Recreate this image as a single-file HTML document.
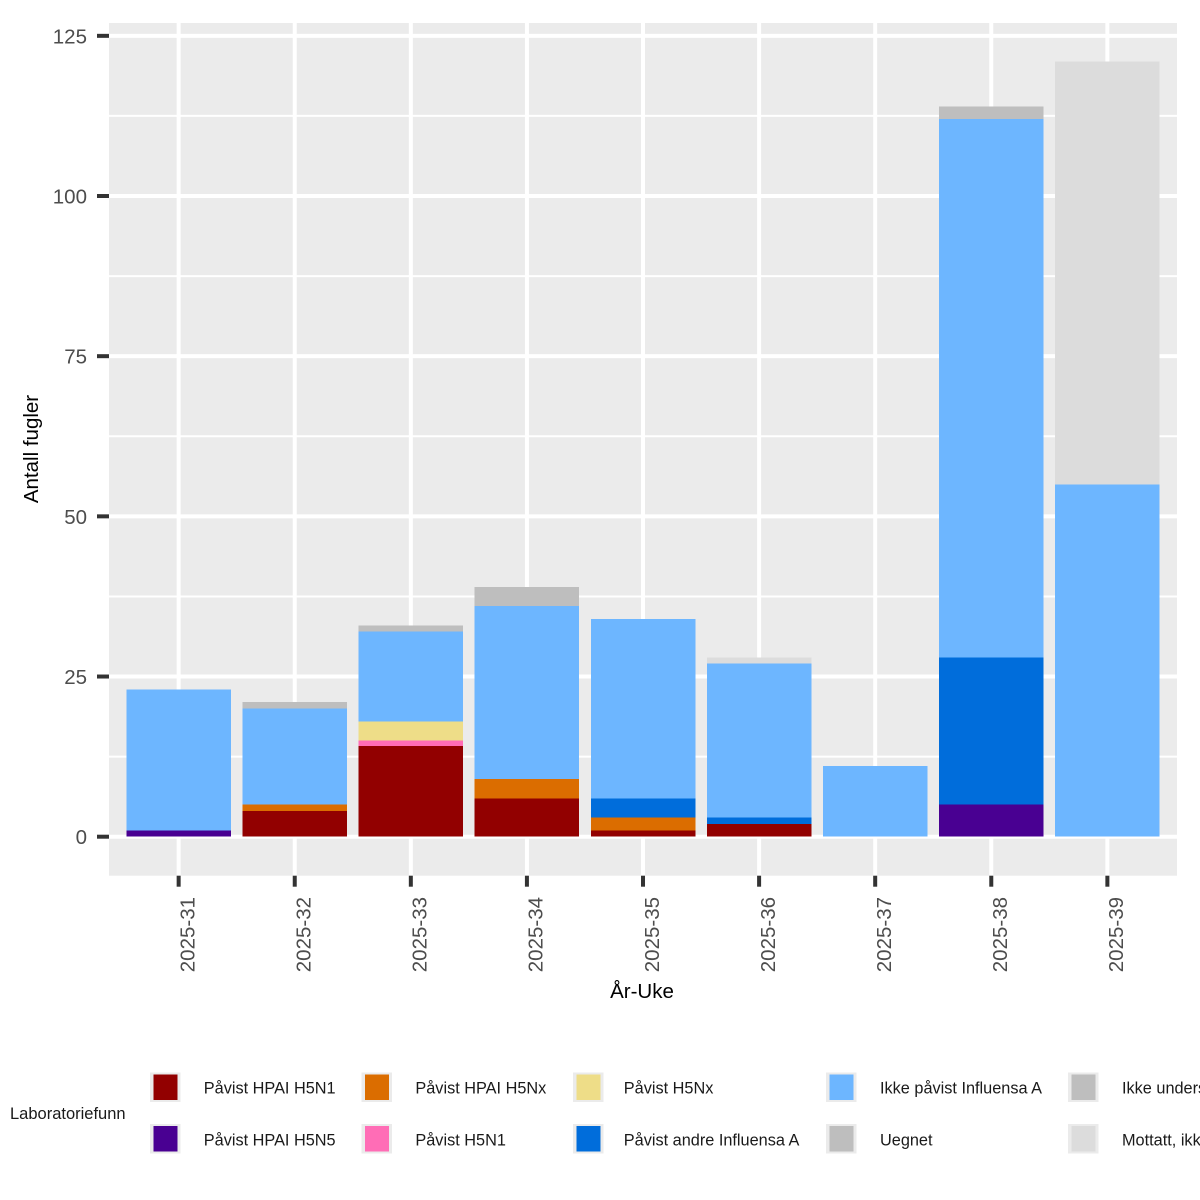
<!DOCTYPE html>
<html><head><meta charset="utf-8"><style>
html,body{margin:0;padding:0;background:#fff;}
svg{display:block;}
text{font-family:"Liberation Sans",Arial,sans-serif;}
</style></head><body>
<svg width="1200" height="1200" viewBox="0 0 1200 1200" xmlns="http://www.w3.org/2000/svg">
<rect x="0" y="0" width="1200" height="1200" fill="#fff"/>
<!-- panel -->
<rect x="109" y="23" width="1068" height="852.7" fill="#EBEBEB"/>
<!-- minor gridlines -->
<g stroke="#fff" stroke-width="2">
<line x1="109" x2="1177" y1="756.61" y2="756.61"/>
<line x1="109" x2="1177" y1="596.44" y2="596.44"/>
<line x1="109" x2="1177" y1="436.26" y2="436.26"/>
<line x1="109" x2="1177" y1="276.09" y2="276.09"/>
<line x1="109" x2="1177" y1="115.9" y2="115.9"/>
</g>
<!-- major gridlines -->
<g stroke="#fff" stroke-width="4">
<line x1="109" x2="1177" y1="836.7" y2="836.7"/>
<line x1="109" x2="1177" y1="676.53" y2="676.53"/>
<line x1="109" x2="1177" y1="516.35" y2="516.35"/>
<line x1="109" x2="1177" y1="356.18" y2="356.18"/>
<line x1="109" x2="1177" y1="196.0" y2="196.0"/>
<line x1="109" x2="1177" y1="35.83" y2="35.83"/>
<line y1="23" y2="875.7" x1="178.65" x2="178.65"/>
<line y1="23" y2="875.7" x1="294.74" x2="294.74"/>
<line y1="23" y2="875.7" x1="410.83" x2="410.83"/>
<line y1="23" y2="875.7" x1="526.92" x2="526.92"/>
<line y1="23" y2="875.7" x1="643.01" x2="643.01"/>
<line y1="23" y2="875.7" x1="759.10" x2="759.10"/>
<line y1="23" y2="875.7" x1="875.19" x2="875.19"/>
<line y1="23" y2="875.7" x1="991.28" x2="991.28"/>
<line y1="23" y2="875.7" x1="1107.37" x2="1107.37"/>
</g>
<!-- bars -->
<g shape-rendering="crispEdges">
<!-- 31 -->
<rect x="126.41" width="104.48" y="830.29" height="6.41" fill="#490092"/>
<rect x="126.41" width="104.48" y="689.34" height="140.95" fill="#6DB6FF"/>
<!-- 32 -->
<rect x="242.50" width="104.48" y="811.07" height="25.63" fill="#920000"/>
<rect x="242.50" width="104.48" y="804.67" height="6.40" fill="#DB6D00"/>
<rect x="242.50" width="104.48" y="708.56" height="96.11" fill="#6DB6FF"/>
<rect x="242.50" width="104.48" y="702.15" height="6.41" fill="#BEBEBE"/>
<!-- 33 -->
<rect x="358.59" width="104.48" y="746.0" height="90.7" fill="#920000"/>
<rect x="358.59" width="104.48" y="740.6" height="5.4" fill="#FF6DB6"/>
<rect x="358.59" width="104.48" y="721.4" height="19.2" fill="#EEDD88"/>
<rect x="358.59" width="104.48" y="631.68" height="89.72" fill="#6DB6FF"/>
<rect x="358.59" width="104.48" y="625.27" height="6.41" fill="#BEBEBE"/>
<!-- 34 -->
<rect x="474.68" width="104.48" y="798.26" height="38.44" fill="#920000"/>
<rect x="474.68" width="104.48" y="779.04" height="19.22" fill="#DB6D00"/>
<rect x="474.68" width="104.48" y="606.05" height="172.99" fill="#6DB6FF"/>
<rect x="474.68" width="104.48" y="586.83" height="19.22" fill="#BEBEBE"/>
<!-- 35 -->
<rect x="590.77" width="104.48" y="830.29" height="6.41" fill="#920000"/>
<rect x="590.77" width="104.48" y="817.48" height="12.81" fill="#DB6D00"/>
<rect x="590.77" width="104.48" y="798.26" height="19.22" fill="#006DDB"/>
<rect x="590.77" width="104.48" y="618.86" height="179.40" fill="#6DB6FF"/>
<!-- 36 -->
<rect x="706.86" width="104.48" y="823.89" height="12.81" fill="#920000"/>
<rect x="706.86" width="104.48" y="817.48" height="6.41" fill="#006DDB"/>
<rect x="706.86" width="104.48" y="663.71" height="153.77" fill="#6DB6FF"/>
<rect x="706.86" width="104.48" y="657.30" height="6.41" fill="#DCDCDC"/>
<!-- 37 -->
<rect x="822.95" width="104.48" y="766.22" height="70.48" fill="#6DB6FF"/>
<!-- 38 -->
<rect x="939.04" width="104.48" y="804.67" height="32.03" fill="#490092"/>
<rect x="939.04" width="104.48" y="657.30" height="147.37" fill="#006DDB"/>
<rect x="939.04" width="104.48" y="119.12" height="538.18" fill="#6DB6FF"/>
<rect x="939.04" width="104.48" y="106.30" height="12.82" fill="#BEBEBE"/>
<!-- 39 -->
<rect x="1055.13" width="104.48" y="484.31" height="352.39" fill="#6DB6FF"/>
<rect x="1055.13" width="104.48" y="61.45" height="422.86" fill="#DCDCDC"/>
</g>
<!-- y ticks -->
<g fill="#333333">
<rect x="97" width="12" y="834.7" height="4"/>
<rect x="97" width="12" y="674.53" height="4"/>
<rect x="97" width="12" y="514.35" height="4"/>
<rect x="97" width="12" y="354.18" height="4"/>
<rect x="97" width="12" y="194.0" height="4"/>
<rect x="97" width="12" y="33.83" height="4"/>
</g>
<g font-size="20.5" fill="#4D4D4D" text-anchor="end">
<text x="87" y="844.2">0</text>
<text x="87" y="684.0">25</text>
<text x="87" y="523.9">50</text>
<text x="87" y="363.7">75</text>
<text x="87" y="203.5">100</text>
<text x="87" y="43.3">125</text>
</g>
<!-- x ticks -->
<g fill="#333333">
<rect y="875.7" height="11" x="176.65" width="4"/>
<rect y="875.7" height="11" x="292.74" width="4"/>
<rect y="875.7" height="11" x="408.83" width="4"/>
<rect y="875.7" height="11" x="524.92" width="4"/>
<rect y="875.7" height="11" x="641.01" width="4"/>
<rect y="875.7" height="11" x="757.10" width="4"/>
<rect y="875.7" height="11" x="873.19" width="4"/>
<rect y="875.7" height="11" x="989.28" width="4"/>
<rect y="875.7" height="11" x="1105.37" width="4"/>
</g>
<g font-size="20.5" fill="#4D4D4D" text-anchor="end">
<text transform="translate(194.4,897) rotate(-90)">2025-31</text>
<text transform="translate(310.5,897) rotate(-90)">2025-32</text>
<text transform="translate(426.6,897) rotate(-90)">2025-33</text>
<text transform="translate(542.7,897) rotate(-90)">2025-34</text>
<text transform="translate(658.8,897) rotate(-90)">2025-35</text>
<text transform="translate(774.9,897) rotate(-90)">2025-36</text>
<text transform="translate(891.0,897) rotate(-90)">2025-37</text>
<text transform="translate(1007.1,897) rotate(-90)">2025-38</text>
<text transform="translate(1123.2,897) rotate(-90)">2025-39</text>
</g>
<!-- axis titles -->
<text x="642" y="998" font-size="20.5" fill="#000" text-anchor="middle">År-Uke</text>
<text transform="translate(38,449) rotate(-90)" font-size="20.5" fill="#000" text-anchor="middle">Antall fugler</text>
<!-- legend -->
<text x="10" y="1119" font-size="16.5" fill="#1A1A1A">Laboratoriefunn</text>
<g>
<rect x="150" y="1072.5" width="30.5" height="29.5" fill="#EBEBEB"/><rect x="153.5" y="1074.5" width="24" height="25.5" fill="#920000"/>
<rect x="150" y="1124" width="30.5" height="29.5" fill="#EBEBEB"/><rect x="153.5" y="1126" width="24" height="25.5" fill="#490092"/>
<rect x="361.5" y="1072.5" width="30.5" height="29.5" fill="#EBEBEB"/><rect x="365" y="1074.5" width="24" height="25.5" fill="#DB6D00"/>
<rect x="361.5" y="1124" width="30.5" height="29.5" fill="#EBEBEB"/><rect x="365" y="1126" width="24" height="25.5" fill="#FF6DB6"/>
<rect x="573" y="1072.5" width="30.5" height="29.5" fill="#EBEBEB"/><rect x="576.5" y="1074.5" width="24" height="25.5" fill="#EEDD88"/>
<rect x="573" y="1124" width="30.5" height="29.5" fill="#EBEBEB"/><rect x="576.5" y="1126" width="24" height="25.5" fill="#006DDB"/>
<rect x="826" y="1072.5" width="30.5" height="29.5" fill="#EBEBEB"/><rect x="829.5" y="1074.5" width="24" height="25.5" fill="#6DB6FF"/>
<rect x="826" y="1124" width="30.5" height="29.5" fill="#EBEBEB"/><rect x="829.5" y="1126" width="24" height="25.5" fill="#BEBEBE"/>
<rect x="1068" y="1072.5" width="30.5" height="29.5" fill="#EBEBEB"/><rect x="1071.5" y="1074.5" width="24" height="25.5" fill="#BEBEBE"/>
<rect x="1068" y="1124" width="30.5" height="29.5" fill="#EBEBEB"/><rect x="1071.5" y="1126" width="24" height="25.5" fill="#DCDCDC"/>
</g>
<g font-size="16.3" fill="#1A1A1A">
<text x="203.8" y="1093.3">Påvist HPAI H5N1</text>
<text x="203.8" y="1145.3">Påvist HPAI H5N5</text>
<text x="415.4" y="1093.3">Påvist HPAI H5Nx</text>
<text x="415.4" y="1145.3">Påvist H5N1</text>
<text x="623.8" y="1093.3">Påvist H5Nx</text>
<text x="623.8" y="1145.3">Påvist andre Influensa A</text>
<text x="880" y="1093.3">Ikke påvist Influensa A</text>
<text x="880" y="1145.3">Uegnet</text>
<text x="1122" y="1093.3">Ikke undersøkt</text>
<text x="1122" y="1145.3">Mottatt, ikke undersøkt</text>
</g>
</svg>
</body></html>
